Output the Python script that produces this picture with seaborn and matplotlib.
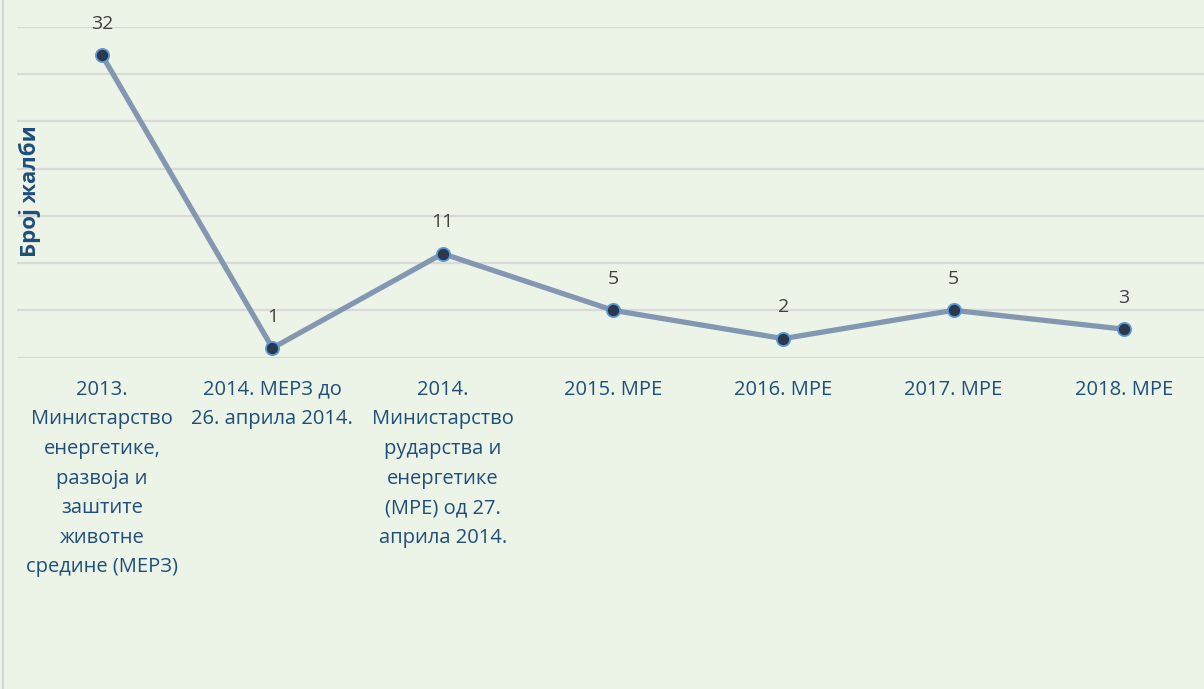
import pandas as pd
import numpy as np
import matplotlib.pyplot as plt
import seaborn as sns
from matplotlib.lines import Line2D

# categories (x labels, wrapped as in the chart) and complaint counts
periods = [
    "2013.\nМинистарство\nенергетике,\nразвоја и\nзаштите\nживотне\nсредине (МЕРЗ)",
    "2014. МЕРЗ до\n26. априла 2014.",
    "2014.\nМинистарство\nрударства и\nенергетике\n(МРЕ) од 27.\nаприла 2014.",
    "2015. МРЕ",
    "2016. МРЕ",
    "2017. МРЕ",
    "2018. МРЕ",
]
complaints = [32, 1, 11, 5, 2, 5, 3]
y_ticks = [0, 5, 10, 15, 20, 25, 30, 35]

bg = "#ECF4E8"
sns.set_theme(style="white")
plt.rcParams["font.family"] = ["Open Sans", "DejaVu Sans"]

df = pd.DataFrame({"pos": np.arange(len(periods)), "count": complaints})

fig = plt.figure(figsize=(12.04, 6.89), dpi=100, facecolor=bg)
ax = fig.add_axes([17 / 1204, 331.5 / 689, 1192 / 1204, 330.5 / 689])
ax.set_facecolor(bg)

sns.lineplot(data=df, x="pos", y="count", ax=ax, color="#8497B0", linewidth=3.8,
             marker="o", markersize=9.5, markerfacecolor="#2B3850",
             markeredgecolor="#5B9BD5", markeredgewidth=1.3, zorder=3)

for x, v in zip(df["pos"], df["count"]):
    ax.annotate(str(v), (x, v), xytext=(0, 16), textcoords="offset points",
                ha="center", va="bottom", fontsize=14, color="#404040")

ax.set_xlim(-0.5, len(periods) - 0.5)
ax.set_ylim(0, 35)
ax.set_yticks(y_ticks)
ax.yaxis.grid(True, color="#D9D9D9", linewidth=1.6)
ax.tick_params(axis="y", left=False, labelleft=False)
ax.set_xticks(df["pos"])
ax.set_xticklabels(periods, fontsize=14.5, color="#1F4E79", linespacing=1.64)
ax.tick_params(axis="x", bottom=False, pad=10)
for s in ax.spines.values():
    s.set_visible(False)

ax.set_ylabel("")
ax.set_xlabel("")
fig.text(30 / 1204, 1 - 191 / 689, "Број жалби", rotation=90, ha="center", va="center",
         fontsize=16, fontweight="bold", color="#1F4E79")

# chart border on the left edge
fig.add_artist(Line2D([2.5 / 1204, 2.5 / 1204], [0, 1], transform=fig.transFigure,
                      color="#D0D0D0", linewidth=1.2))

plt.savefig("out.png", dpi=100, facecolor=bg)
